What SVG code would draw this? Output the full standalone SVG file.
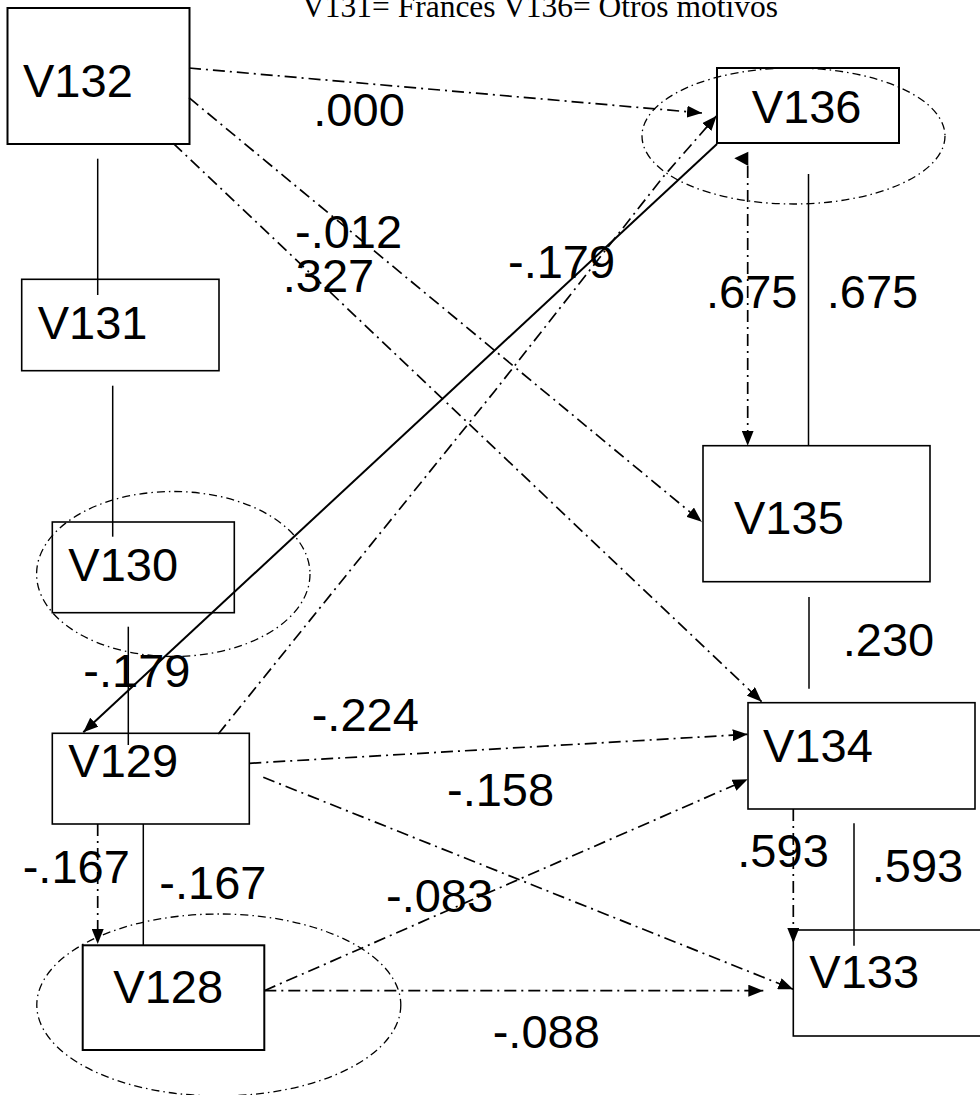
<svg xmlns="http://www.w3.org/2000/svg" width="980" height="1095" viewBox="0 0 980 1095">
<style>
.box{fill:none;stroke:#000;stroke-width:1.6}
.bx2{fill:none;stroke:#000;stroke-width:2}
.lbl{font-family:"Liberation Sans",Arial,sans-serif;font-size:47px;fill:#000}
.title{font-family:"Liberation Serif","Times New Roman",serif;font-size:31.5px;fill:#000}
.solid{fill:none;stroke:#000;stroke-width:1.5}
.dd{fill:none;stroke:#000;stroke-width:1.7;stroke-dasharray:12,5,2,5}
.ell{fill:none;stroke:#000;stroke-width:1.3;stroke-dasharray:8,4,1.5,4}
</style>
<defs>
<marker id="ah" markerUnits="userSpaceOnUse" markerWidth="16" markerHeight="12" refX="15" refY="6" orient="auto">
<path d="M0,0 L15,6 L0,12 z" fill="#000"/>
</marker>
</defs>
<rect width="980" height="1095" fill="#fff"/>
<text class="title" x="302" y="17">V131= Francés V136= Otros motivos</text>

<g id="connectors">
<line class="dd" x1="189" y1="68" x2="702" y2="113" marker-end="url(#ah)"/>
<line class="dd" x1="189" y1="97.7" x2="701.7" y2="521.7" marker-end="url(#ah)"/>
<line class="dd" x1="173.3" y1="143.3" x2="761.7" y2="701.7" marker-end="url(#ah)"/>
<line x1="717" y1="144" x2="83.3" y2="732.3" fill="none" stroke="#000" stroke-width="2" marker-end="url(#ah)"/>
<polyline class="dd" points="218.3,734 495,390.7 663.3,176.7 716.7,115.7" marker-end="url(#ah)"/>
<line class="dd" x1="747.7" y1="166" x2="747.7" y2="445.7" marker-end="url(#ah)"/>
<polygon points="734.3,158.3 748.3,151.7 748.3,166" fill="#000"/>
<line class="solid" x1="808.5" y1="174" x2="808.5" y2="445.7"/>
<line class="solid" x1="809" y1="597" x2="809" y2="688.7"/>
<line class="solid" x1="97.7" y1="158.7" x2="97.7" y2="295"/>
<line class="solid" x1="112.7" y1="385.7" x2="112.7" y2="536.7"/>
<line class="solid" x1="128.3" y1="626.7" x2="128.3" y2="745"/>
<line class="solid" x1="143.3" y1="824" x2="143.3" y2="945"/>
<line class="dd" x1="97.7" y1="824" x2="97.7" y2="944" marker-end="url(#ah)"/>
<line class="dd" x1="249.3" y1="763.3" x2="747.7" y2="734.3" marker-end="url(#ah)"/>
<line class="dd" x1="263.3" y1="777.3" x2="793.3" y2="989.3" marker-end="url(#ah)"/>
<line class="dd" x1="264.3" y1="990.7" x2="747.7" y2="779.3" marker-end="url(#ah)"/>
<line class="dd" x1="264.3" y1="990.7" x2="763.3" y2="990.7" marker-end="url(#ah)"/>
<line class="dd" x1="793.3" y1="809" x2="793.3" y2="943" marker-end="url(#ah)"/>
<line class="solid" x1="854" y1="823.3" x2="854" y2="945.7"/>
</g>

<g id="ellipses">
<ellipse class="ell" cx="793.5" cy="136" rx="151.5" ry="68"/>
<ellipse class="ell" cx="173.3" cy="574" rx="136.7" ry="82.5"/>
<ellipse class="ell" cx="218.8" cy="1005" rx="182" ry="91"/>
</g>

<g id="V132"><rect class="bx2" x="7.5" y="8" width="182" height="136"/><text class="lbl" x="23" y="97">V132</text></g>
<g id="V136"><rect class="bx2" x="717" y="68" width="182" height="75"/><text class="lbl" x="751.7" y="122.7">V136</text></g>
<g id="V131"><rect class="box" x="21.7" y="279.3" width="197.3" height="91.4"/><text class="lbl" x="37.7" y="339.3">V131</text></g>
<g id="V130"><rect class="box" x="52.3" y="522" width="182" height="90.7"/><text class="lbl" x="68.3" y="581">V130</text></g>
<g id="V129"><rect class="box" x="52.3" y="733.3" width="197" height="90.7"/><text class="lbl" x="68.3" y="776.7">V129</text></g>
<g id="V128"><rect class="bx2" x="82.7" y="945.3" width="181.6" height="104.7"/><text class="lbl" x="113.3" y="1003.3">V128</text></g>
<g id="V135"><rect class="box" x="703" y="445.7" width="227" height="136"/><text class="lbl" x="734" y="534">V135</text></g>
<g id="V134"><rect class="box" x="748" y="702.7" width="227" height="106.3"/><text class="lbl" x="763" y="762">V134</text></g>
<g id="V133"><rect class="box" x="793.3" y="930" width="200" height="106"/><text class="lbl" x="809.3" y="988.3">V133</text></g>

<g id="labels">
<text class="lbl" x="313.3" y="126">.000</text>
<text class="lbl" x="295" y="248.3">-.012</text>
<text class="lbl" x="282.7" y="291.7">.327</text>
<text class="lbl" x="508" y="278">-.179</text>
<text class="lbl" x="706" y="307.7">.675</text>
<text class="lbl" x="826.7" y="307.7">.675</text>
<text class="lbl" x="842.7" y="655.7">.230</text>
<text class="lbl" x="83.3" y="686.7">-.179</text>
<text class="lbl" x="311.7" y="731">-.224</text>
<text class="lbl" x="447" y="806">-.158</text>
<text class="lbl" x="737.3" y="867.3">.593</text>
<text class="lbl" x="871.7" y="881.7">.593</text>
<text class="lbl" x="22.7" y="883.3">-.167</text>
<text class="lbl" x="159.3" y="899">-.167</text>
<text class="lbl" x="386" y="911.7">-.083</text>
<text class="lbl" x="492.7" y="1047.7">-.088</text>
</g>
</svg>
